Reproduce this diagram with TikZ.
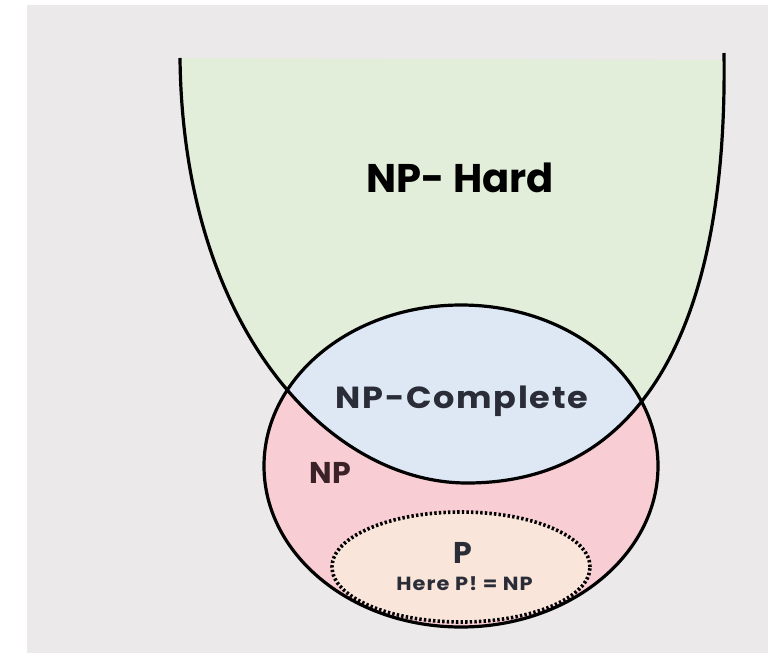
\documentclass[tikz,border=0pt]{standalone}
\usepackage{fontspec}
\setmainfont{Poppins}
\definecolor{bggray}{HTML}{EBE9EA}
\definecolor{hardgreen}{HTML}{E2EED9}
\definecolor{compblue}{HTML}{DEE8F4}
\definecolor{nppink}{HTML}{F8CDD4}
\definecolor{ppeach}{HTML}{F9E5DA}
\definecolor{txtdark}{HTML}{2A2D38}
\definecolor{txtnp}{HTML}{3B2228}
\begin{document}
\begin{tikzpicture}[x=1pt,y=-1pt,
  outline/.style={line width=3.2pt,black},
  dotline/.style={line width=3.6pt,black,dash pattern=on 2.4pt off 2.2pt},
  lbl/.style={anchor=base,inner sep=0pt}]
\useasboundingbox (0,0) rectangle (768,653);
\fill[white] (0,0) rectangle (768,653);
\fill[bggray] (27,5) rectangle (768,653);
% NP-Hard region
\fill[hardgreen] (180,58) .. controls (183,330) and (330,483) .. (467,483)
  .. controls (640,483) and (728,330) .. (724,53) -- (724,60) -- cycle;
% NP region
\fill[nppink] (461,466) ellipse [x radius=197pt, y radius=161pt];
% NP-Complete region
\begin{scope}
  \clip (461,466) ellipse [x radius=197pt, y radius=161pt];
  \fill[compblue] (180,58) .. controls (183,330) and (330,483) .. (467,483)
    .. controls (640,483) and (728,330) .. (724,53) -- cycle;
\end{scope}
% P region
\fill[ppeach] (461,567) ellipse [x radius=129pt, y radius=55pt];
% outlines
\draw[outline] (180,58) .. controls (183,330) and (330,483) .. (467,483)
  .. controls (640,483) and (728,330) .. (724,53);
\draw[outline] (461,466) ellipse [x radius=197pt, y radius=161pt];
\draw[dotline] (461,567) ellipse [x radius=129pt, y radius=55pt];
% labels
\node[lbl,font=\bfseries\fontsize{40}{40}\selectfont,text=black] (hard) at (460,192) {NP- Hard};
\node[lbl,xscale=1.1,font=\bfseries\fontsize{30.5}{31}\selectfont\addfontfeatures{LetterSpace=5},text=txtdark] (complete) at (462,408) {NP-Complete};
\node[lbl,font=\bfseries\fontsize{30}{30}\selectfont,text=txtnp] (np) at (330.5,483) {NP};
\node[lbl,font=\bfseries\fontsize{30}{30}\selectfont,text=txtdark] (p) at (463,563) {P};
\node[lbl,xscale=1.1,font=\bfseries\fontsize{19}{19}\selectfont\addfontfeatures{LetterSpace=5},text=txtdark] (here) at (464.5,590) {Here P! = NP};
\end{tikzpicture}
\end{document}
